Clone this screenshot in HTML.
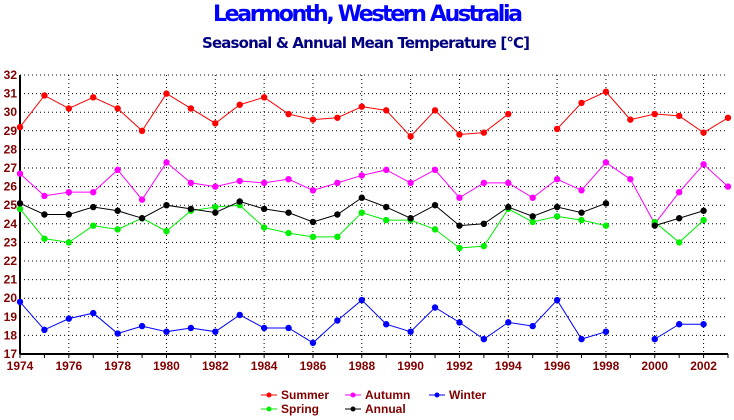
<!DOCTYPE html>
<html><head><meta charset="utf-8"><style>body{margin:0;background:#fff}svg{display:block}</style></head>
<body>
<svg id="chart" width="734" height="420" xmlns="http://www.w3.org/2000/svg" font-family="Liberation Sans, sans-serif">
<rect width="734" height="420" fill="#fff"/>
<text x="368" y="21" text-anchor="middle" font-size="22" fill="#0000ff" font-weight="bold" font-family="DejaVu Sans, sans-serif" textLength="310">Learmonth, Western Australia</text>
<text x="366" y="48" text-anchor="middle" font-size="15" font-weight="bold" fill="#000080" font-family="DejaVu Sans, sans-serif" textLength="328">Seasonal &amp; Annual Mean Temperature [°C]</text>
<g id="grid"></g><g id="axes"></g><g id="series"></g><g id="legend"></g>
</svg>
<script>
const years=[1974,1975,1976,1977,1978,1979,1980,1981,1982,1983,1984,1985,1986,1987,1988,1989,1990,1991,1992,1993,1994,1995,1996,1997,1998,1999,2000,2001,2002,2003];
const summer=[29.2,30.9,30.2,30.8,30.2,29.0,31.0,30.2,29.4,30.4,30.8,29.9,29.6,29.7,30.3,30.1,28.7,30.1,28.8,28.9,29.9,null,29.1,30.5,31.1,29.6,29.9,29.8,28.9,29.7];
const autumn=[26.7,25.5,25.7,25.7,26.9,25.3,27.3,26.2,26.0,26.3,26.2,26.4,25.8,26.2,26.6,26.9,26.2,26.9,25.4,26.2,26.2,25.4,26.4,25.8,27.3,26.4,24.0,25.7,27.2,26.0];
const winter=[19.8,18.3,18.9,19.2,18.1,18.5,18.2,18.4,18.2,19.1,18.4,18.4,17.6,18.8,19.9,18.6,18.2,19.5,18.7,17.8,18.7,18.5,19.9,17.8,18.2,null,17.8,18.6,18.6,null];
const spring=[24.8,23.2,23.0,23.9,23.7,24.3,23.6,24.7,24.9,25.0,23.8,23.5,23.3,23.3,24.6,24.2,24.2,23.7,22.7,22.8,24.8,24.1,24.4,24.2,23.9,null,24.1,23.0,24.2,null];
const annual=[25.1,24.5,24.5,24.9,24.7,24.3,25.0,24.8,24.6,25.2,24.8,24.6,24.1,24.5,25.4,24.9,24.3,25.0,23.9,24.0,24.9,24.4,24.9,24.6,25.1,null,23.9,24.3,24.7,null];
const yTicks=[17,18,19,20,21,22,23,24,25,26,27,28,29,30,31,32];
const xLabels=[1974,1976,1978,1980,1982,1984,1986,1988,1990,1992,1994,1996,1998,2000,2002];
const X0=20,X1=728,Y0=354,Y1=75;
const xs=y=>X0+(y-1974)*(X1-X0)/(2003-1974);
const ys=v=>Y0-(v-17)*(Y0-Y1)/15;
const NS="http://www.w3.org/2000/svg";
function mk(t,a,p){const e=document.createElementNS(NS,t);for(const k in a)e.setAttribute(k,a[k]);p.appendChild(e);return e;}
const grid=document.getElementById('grid'),axes=document.getElementById('axes'),ser=document.getElementById('series'),leg=document.getElementById('legend');
yTicks.forEach(v=>{if(v>17){const l=mk('line',{x1:X0,x2:X1,y1:ys(v),y2:ys(v),stroke:'#000','stroke-dasharray':'1,3'},grid);

}
const t=mk('text',{x:17,y:ys(v)+4,'text-anchor':'end','font-size':'12','font-weight':'bold',fill:'#800000'},axes);t.textContent=v;

});
years.forEach(y=>{const x=xs(y);if(y>1974&&(y-1974)%2==0){const l=mk('line',{x1:x,x2:x,y1:Y1,y2:Y0,stroke:'#000','stroke-dasharray':'1,3'},grid);

}
mk('line',{x1:x,x2:x,y1:Y0,y2:Y0+4,stroke:'#000'},axes);});
mk('line',{x1:X0,x2:X1,y1:Y0,y2:Y0,stroke:'#000','stroke-width':2},axes);
mk('line',{x1:X0,x2:X0,y1:Y1,y2:Y0,stroke:'#000','stroke-width':2},axes);
xLabels.forEach(y=>{const t=mk('text',{x:xs(y),y:370,'text-anchor':'middle','font-size':'12','font-weight':'bold',fill:'#800000'},axes);t.textContent=y;

});
const S=[['summer',summer,'#ff0000'],['autumn',autumn,'#ff00ff'],['winter',winter,'#0000ff'],['spring',spring,'#00ee00'],['annual',annual,'#000000']];
S.forEach(([n,d,c])=>{const g=mk('g',{},ser);


let seg=[];const segs=[];d.forEach((v,i)=>{if(v==null){if(seg.length)segs.push(seg);seg=[];}else seg.push(xs(years[i])+','+ys(v));});if(seg.length)segs.push(seg);
segs.forEach(s=>{const p=mk('polyline',{points:s.join(' '),fill:'none',stroke:c,'stroke-width':1},g);

});
d.forEach((v,i)=>{if(v==null)return;const m=mk('circle',{cx:xs(years[i]),cy:ys(v),r:3.2,fill:c},g);

});});
const L=[['Summer','#ff0000',261,395],['Autumn','#ff00ff',345,395],['Winter','#0000ff',429,395],['Spring','#00ee00',261,409],['Annual','#000000',345,409]];
L.forEach(([n,c,x,y])=>{const g=mk('g',{},leg);


mk('line',{x1:x,x2:x+16,y1:y,y2:y,stroke:c},g);mk('circle',{cx:x+8,cy:y,r:2.5,fill:c},g);
const t=mk('text',{x:x+20,y:y+4,'font-size':'12','font-weight':'bold',fill:'#800000'},g);t.textContent=n;});
</script>
</body></html>
